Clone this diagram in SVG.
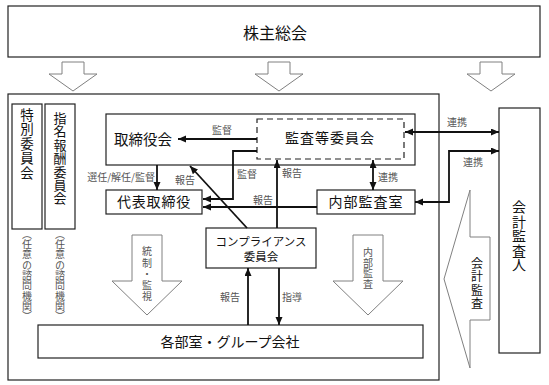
<svg xmlns="http://www.w3.org/2000/svg" width="549" height="385" viewBox="0 0 549 385">
<style>
.box{fill:#fff;stroke:#222;stroke-width:1.2}
.dash{fill:#fff;stroke:#222;stroke-width:1.2;stroke-dasharray:6 4}
.blk{fill:#fff;stroke:#808080;stroke-width:1}
.t{font-family:"Noto Sans CJK JP","Noto Sans CJK SC",sans-serif;fill:#111;text-anchor:middle}
.lb{font-family:"Noto Sans CJK JP","Noto Sans CJK SC",sans-serif;fill:#555;font-size:10px;text-anchor:middle}
.v{writing-mode:vertical-rl;text-anchor:start}
.c{fill:none;stroke:#111;stroke-width:1.8}
</style>
<defs>
<marker id="ah" markerUnits="userSpaceOnUse" markerWidth="9" markerHeight="8" refX="8" refY="3.5" orient="auto-start-reverse">
<path d="M0,0 L8,3.5 L0,7 z" fill="#111"/>
</marker>
</defs>

<rect id="outer" class="box" x="8" y="94" width="431" height="286" fill="none"/>

<g id="soukai"><rect class="box" x="8" y="6" width="532" height="51"/><text class="t" x="275" y="39" font-size="16">株主総会</text></g>

<g id="topArrows">
<polygon class="blk" points="62,62 84,62 84,74 97,74 73,91 49,74 62,74"/>
<polygon class="blk" points="268,62 290,62 290,74 303,74 279,91 255,74 268,74"/>
<polygon class="blk" points="480,62 502,62 502,74 515,74 491,91 467,74 480,74"/>
</g>

<g id="tokubetsu"><rect class="box" x="12" y="104" width="30" height="125"/>
<text class="t v" x="27" y="108" font-size="13.5" letter-spacing="1">特別委員会</text>
<text class="lb v" x="27" y="229" font-size="10.5" letter-spacing="0.3">（任意の諮問機関）</text></g>

<g id="shimei"><rect class="box" x="45" y="104" width="30" height="125"/>
<text class="t v" x="60" y="111.5" font-size="13" letter-spacing="0.4">指名報酬委員会</text>
<text class="lb v" x="60" y="229" font-size="10.5" letter-spacing="0.3">（任意の諮問機関）</text></g>

<g id="torishimariyakukai"><rect class="box" x="106" y="114" width="309" height="51"/>
<text class="t" x="143" y="145" font-size="14.5">取締役会</text></g>

<g id="kansatou"><rect class="dash" x="257" y="119" width="147" height="40"/>
<text class="t" x="330" y="143" font-size="14" letter-spacing="1">監査等委員会</text></g>

<g id="daihyou"><rect class="box" x="106" y="190" width="96" height="24"/>
<text class="t" x="154" y="207" font-size="14" letter-spacing="0.8">代表取締役</text></g>

<g id="naibu"><rect class="box" x="317" y="190" width="98" height="24"/>
<text class="t" x="366" y="207" font-size="14" letter-spacing="1">内部監査室</text></g>

<g id="compliance"><rect class="box" x="206" y="228" width="110" height="40"/>
<text class="t" x="261" y="245.5" font-size="11.5">コンプライアンス</text>
<text class="t" x="261" y="260.5" font-size="11.5">委員会</text></g>

<g id="kakubu"><rect class="box" x="38" y="325" width="385" height="33"/>
<text class="t" x="230" y="347" font-size="14">各部室・グループ会社</text></g>

<g id="kaikei"><rect class="box" x="499" y="108" width="41" height="245"/>
<text class="t v" x="519" y="200" font-size="14" letter-spacing="0.5">会計監査人</text></g>

<g id="blockArrows">
<polygon class="blk" points="132,235 162,235 162,281 182,281 147,315 112,281 132,281"/>
<text class="lb v" x="147" y="246.5" font-size="11" letter-spacing="1.25">統制・監視</text>
<polygon class="blk" points="353,235 383,235 383,281 403,281 368,315 333,281 353,281"/>
<text class="lb v" x="368" y="247.5" font-size="11" letter-spacing="0.5">内部監査</text>
<polygon class="blk" points="470,190 470,237 490,237 490,320 470,320 470,368 444,279"/>
<text class="t v" x="477" y="257" font-size="12" letter-spacing="1.5">会計監査</text>
</g>

<g id="connectors">
<line class="c" x1="257" y1="139" x2="178" y2="139" marker-end="url(#ah)"/>
<polyline class="c" points="257,151 233,151 233,199 203,199" marker-end="url(#ah)"/>
<line class="c" x1="157" y1="165" x2="157" y2="190" marker-end="url(#ah)"/>
<line class="c" x1="247" y1="228" x2="190" y2="166" marker-end="url(#ah)"/>
<line class="c" x1="277" y1="228" x2="277" y2="160" marker-end="url(#ah)"/>
<line class="c" x1="317" y1="207" x2="203" y2="207" marker-end="url(#ah)"/>
<line class="c" x1="373" y1="160" x2="373" y2="190" marker-start="url(#ah)" marker-end="url(#ah)"/>
<line class="c" x1="405" y1="132" x2="499" y2="132" marker-start="url(#ah)" marker-end="url(#ah)"/>
<polyline class="c" points="415,202 449,202 449,151 499,151" marker-start="url(#ah)" marker-end="url(#ah)"/>
<line class="c" x1="248" y1="325" x2="248" y2="268" marker-end="url(#ah)"/>
<line class="c" x1="279" y1="268" x2="279" y2="325" marker-end="url(#ah)"/>
<text class="lb" x="222" y="134">監督</text>
<text class="lb" x="247" y="178">監督</text>
<text class="lb" x="155" y="181" style="text-anchor:end">選任/解任/監督</text>
<text class="lb" x="185" y="184">報告</text>
<text class="lb" x="292" y="177">報告</text>
<text class="lb" x="263" y="204">報告</text>
<text class="lb" x="388" y="181">連携</text>
<text class="lb" x="457" y="126">連携</text>
<text class="lb" x="473" y="166">連携</text>
<text class="lb" x="230" y="301">報告</text>
<text class="lb" x="292" y="301">指導</text>
</g>
</svg>
